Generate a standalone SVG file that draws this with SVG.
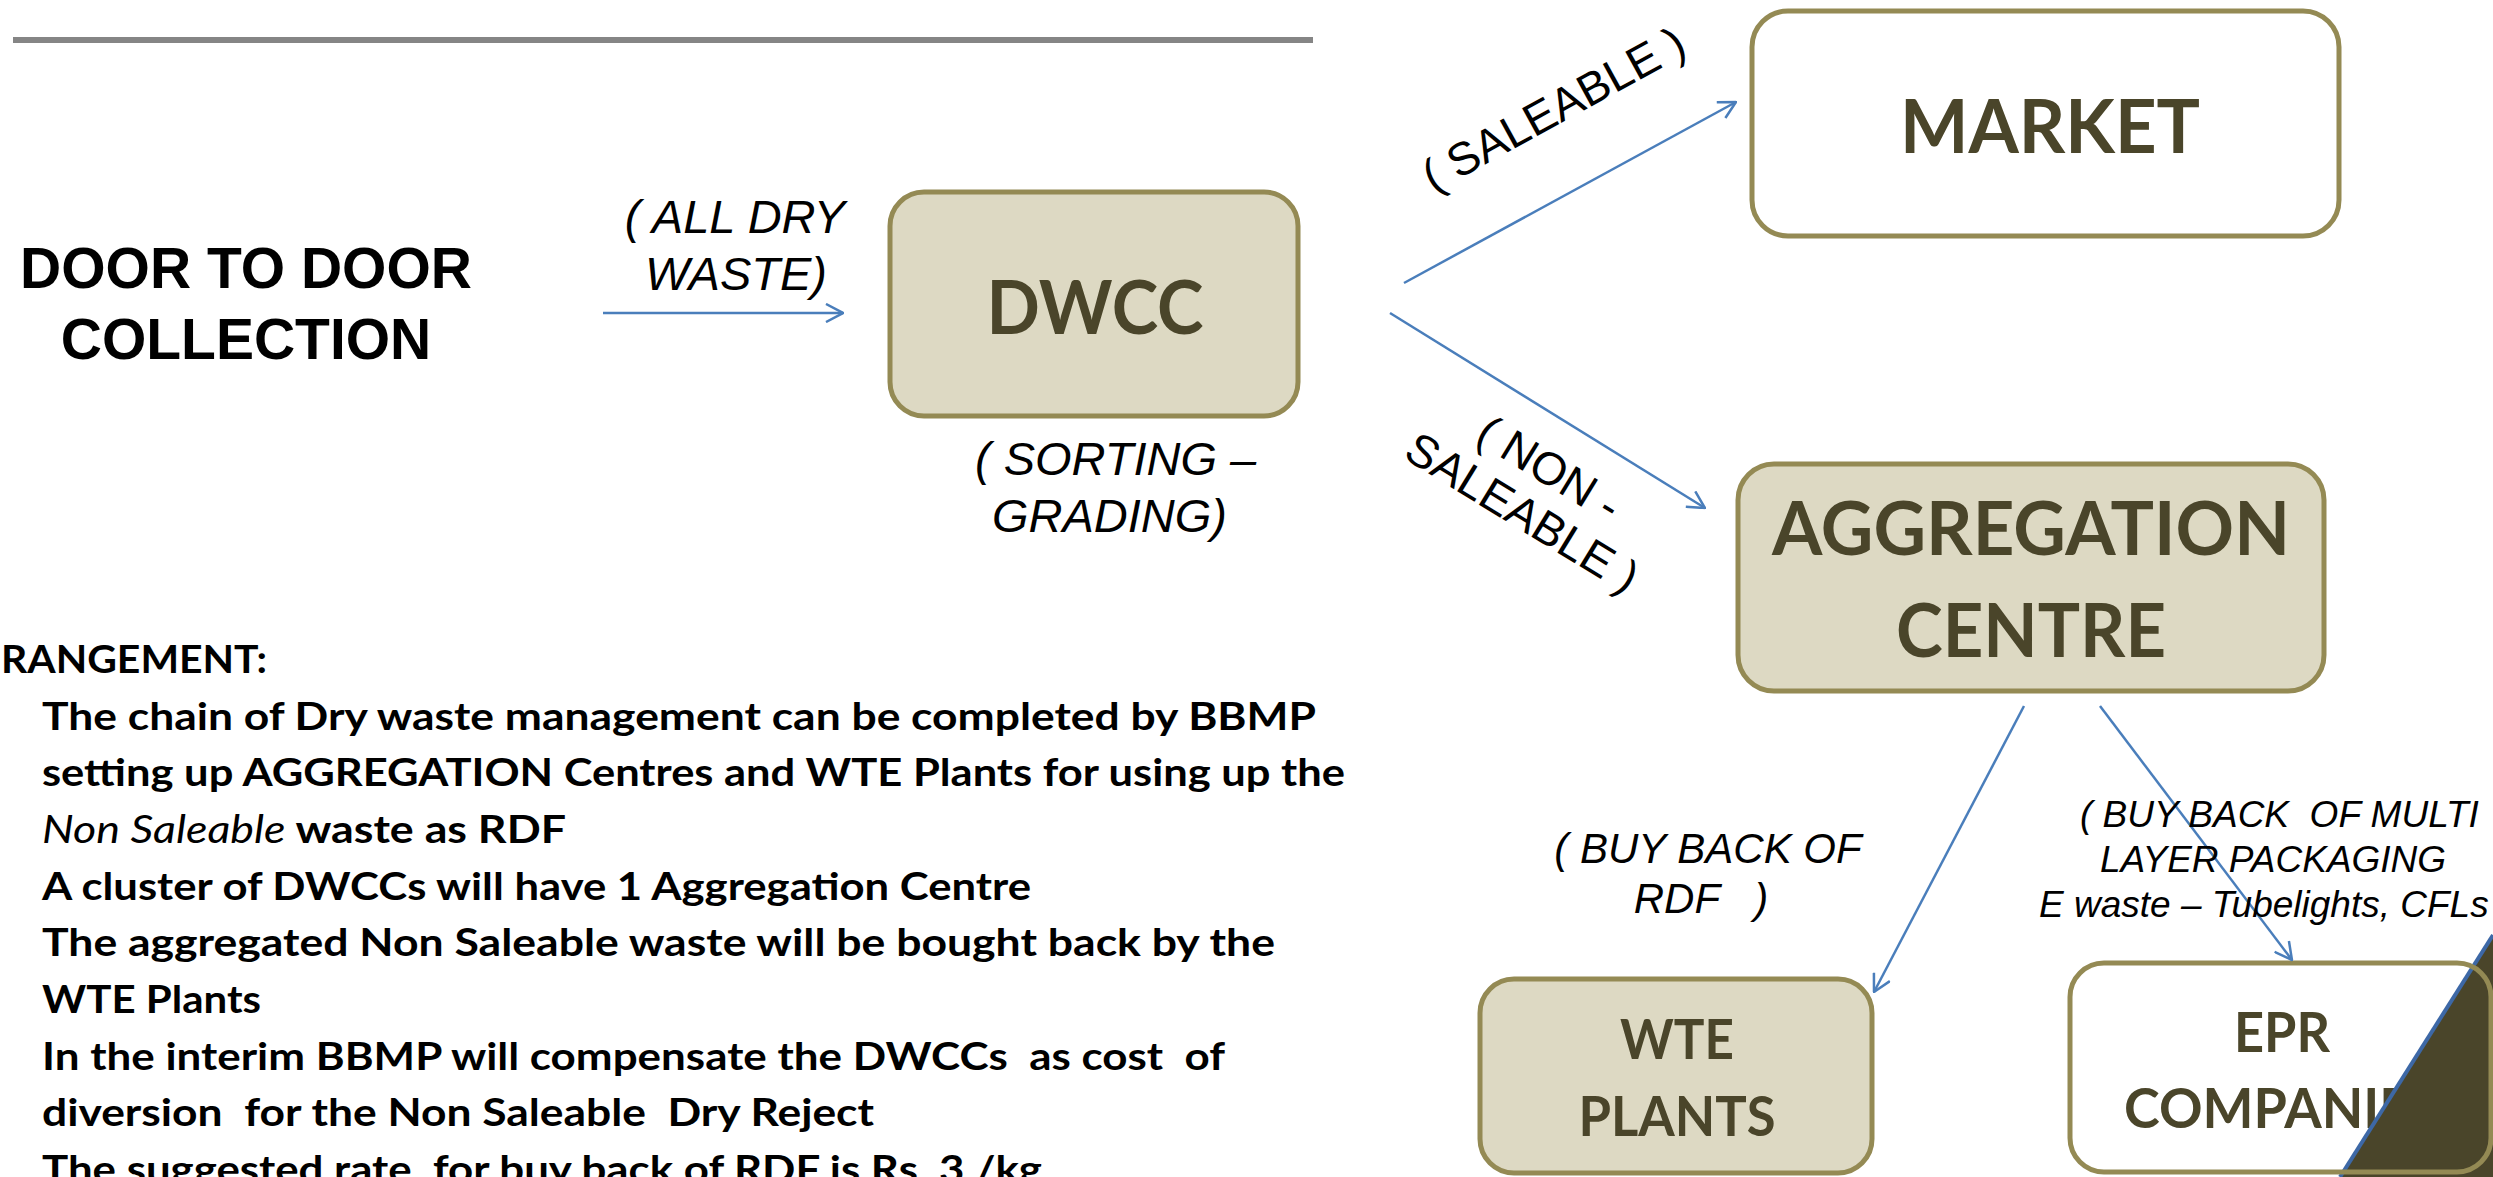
<svg xmlns="http://www.w3.org/2000/svg" width="2493" height="1177" viewBox="0 0 2493 1177">
<style>
.box{fill:#ddd9c3;stroke:#948a54;stroke-width:5}
.wbox{fill:#ffffff;stroke:#948a54;stroke-width:5}
.nt{font-family:Lato,"Open Sans",sans-serif;font-weight:700;fill:#4a452a;text-anchor:middle}
.lab{font-family:"Liberation Sans",Arial,sans-serif;font-style:italic;fill:#000}
.rot{font-family:"Liberation Sans",Arial,sans-serif;fill:#000;text-anchor:middle;font-size:46px}
.body{font-family:Lato,"Open Sans",sans-serif;font-weight:700;fill:#000;font-size:38px}
.conn{stroke:#4a7ebb;stroke-width:2.5;fill:none;marker-end:url(#arr)}
</style>
<defs>
<marker id="arr" viewBox="0 0 20 20" refX="19" refY="10" markerWidth="20" markerHeight="20" markerUnits="userSpaceOnUse" orient="auto">
<path d="M2,1 L19,10 L2,19" fill="none" stroke="#4a7ebb" stroke-width="2.5"/>
</marker>
</defs>
<rect x="13" y="37" width="1300" height="6" fill="#858585"/>

<g id="door-to-door">
<text font-family="'Liberation Sans',Arial,sans-serif" font-weight="700" font-size="57" text-anchor="middle" fill="#000"><tspan x="246" y="288">DOOR TO DOOR</tspan><tspan x="246" y="359">COLLECTION</tspan></text>
</g>

<g id="dwcc">
<rect class="box" x="890" y="192" width="408" height="224" rx="34"/>
<text class="nt" x="1095" y="334" font-size="75" textLength="217" lengthAdjust="spacingAndGlyphs">DWCC</text>
</g>

<g id="market">
<rect class="wbox" x="1752" y="11" width="587" height="225" rx="36"/>
<text class="nt" x="2050" y="153" font-size="75" textLength="300" lengthAdjust="spacingAndGlyphs">MARKET</text>
</g>

<g id="aggregation">
<rect class="box" x="1738" y="464" width="586" height="227" rx="36"/>
<text class="nt" x="2031" y="555" font-size="74" textLength="518" lengthAdjust="spacingAndGlyphs">AGGREGATION</text>
<text class="nt" x="2031" y="657" font-size="74" textLength="270" lengthAdjust="spacingAndGlyphs">CENTRE</text>
</g>

<g id="wte">
<rect class="box" x="1480" y="979" width="392" height="194" rx="34"/>
<text class="nt" x="1677" y="1059" font-size="55" textLength="114" lengthAdjust="spacingAndGlyphs">WTE</text>
<text class="nt" x="1677" y="1136" font-size="55" textLength="197" lengthAdjust="spacingAndGlyphs">PLANTS</text>
</g>

<g id="epr">
<rect x="2070" y="963" width="421" height="209" rx="34" fill="#ffffff"/>
<text class="nt" x="2282" y="1052" font-size="56" textLength="96" lengthAdjust="spacingAndGlyphs">EPR</text>
<text class="nt" x="2282" y="1128" font-size="56" textLength="316" lengthAdjust="spacingAndGlyphs">COMPANIES</text>
</g>

<polygon points="2493,935 2340,1177 2493,1177" fill="#4a452a"/>
<line x1="2340" y1="1177" x2="2493" y2="935" stroke="#3d68a6" stroke-width="4"/>
<rect x="2070" y="963" width="421" height="209" rx="34" fill="none" stroke="#948a54" stroke-width="5"/>

<g id="connectors">
<line class="conn" x1="603" y1="313" x2="843" y2="313"/>
<line class="conn" x1="1404" y1="283" x2="1736" y2="102"/>
<line class="conn" x1="1390" y1="313" x2="1705" y2="508"/>
<line class="conn" x1="2024" y1="706" x2="1874" y2="992"/>
<line class="conn" x1="2100" y1="706" x2="2292" y2="960"/>
</g>

<g id="labels">
<text class="lab" font-size="47" text-anchor="middle"><tspan x="735" y="233">( ALL DRY</tspan><tspan x="736" y="290">WASTE)</tspan></text>
<text class="lab" font-size="47"><tspan x="975" y="475">( SORTING –</tspan><tspan x="992" y="532">GRADING)</tspan></text>
<text class="rot" transform="translate(1561,123) rotate(-28.7)" x="0" y="0">( SALEABLE )</text>
<text class="rot" transform="translate(1541,482) rotate(31.5)" x="0" y="0">( NON -</text>
<text class="rot" transform="translate(1514,526) rotate(31.5)" x="0" y="0">SALEABLE )</text>
<text class="lab" font-size="42" text-anchor="middle"><tspan x="1708" y="863">( BUY BACK OF</tspan><tspan x="1701" y="913">RDF &#160; )</tspan></text>
<text class="lab" font-size="37"><tspan x="2080" y="827">( BUY BACK &#160;OF MULTI</tspan><tspan x="2100" y="872">LAYER PACKAGING</tspan><tspan x="2039" y="917">E waste – Tubelights, CFLs</tspan></text>
</g>

<g id="arrangement-text">
<text class="body" x="1" y="673" textLength="266" lengthAdjust="spacingAndGlyphs">RANGEMENT:</text>
<text class="body" x="42" y="730" textLength="1274" lengthAdjust="spacingAndGlyphs">The chain of Dry waste management can be completed by BBMP</text>
<text class="body" x="42" y="786" textLength="1303" lengthAdjust="spacingAndGlyphs">setting up AGGREGATION Centres and WTE Plants for using up the</text>
<text class="body" x="42" y="843" textLength="524" lengthAdjust="spacingAndGlyphs"><tspan font-style="italic" font-weight="400">Non Saleable</tspan> waste as RDF</text>
<text class="body" x="42" y="900" textLength="989" lengthAdjust="spacingAndGlyphs">A cluster of DWCCs will have 1 Aggregation Centre</text>
<text class="body" x="42" y="956" textLength="1233" lengthAdjust="spacingAndGlyphs">The aggregated Non Saleable waste will be bought back by the</text>
<text class="body" x="42" y="1013" textLength="219" lengthAdjust="spacingAndGlyphs">WTE Plants</text>
<text class="body" x="42" y="1070" textLength="1183" lengthAdjust="spacingAndGlyphs">In the interim BBMP will compensate the DWCCs &#160;as cost &#160;of</text>
<text class="body" x="42" y="1126" textLength="832" lengthAdjust="spacingAndGlyphs">diversion &#160;for the Non Saleable &#160;Dry Reject</text>
<text class="body" x="42" y="1183" textLength="1000" lengthAdjust="spacingAndGlyphs">The suggested rate &#160;for buy back of RDF is Rs. 3 /kg</text>
</g>
</svg>
